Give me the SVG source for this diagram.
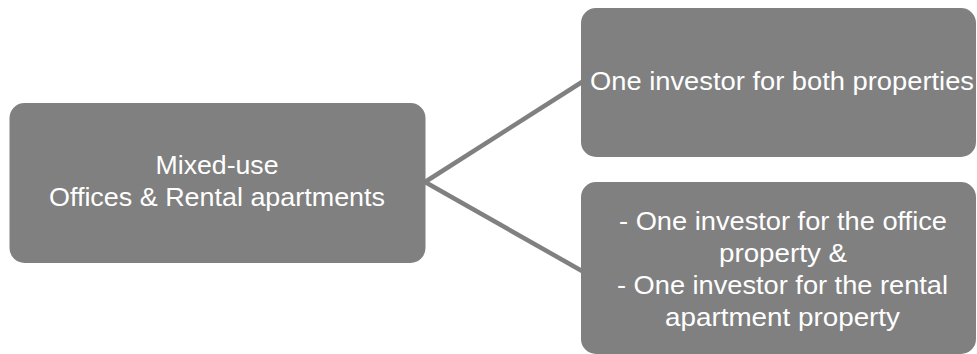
<svg xmlns="http://www.w3.org/2000/svg" width="977" height="354" viewBox="0 0 977 354">
<style>
.box{fill:#808080;}
.t{font-family:"Liberation Sans",Arial,sans-serif;font-size:26px;fill:#ffffff;text-anchor:middle;}
.conn{stroke:#808080;stroke-width:4.5;fill:none;}
</style>
<rect width="977" height="354" fill="#ffffff"/>
<g id="connectors">
<line class="conn" x1="425" y1="182" x2="582" y2="82"/>
<line class="conn" x1="425" y1="182" x2="582" y2="271"/>
</g>
<g id="node-mixed-use">
<rect class="box" x="9.5" y="103" width="416" height="160" rx="15" ry="15"/>
<text class="t" x="217" y="174" textLength="123" lengthAdjust="spacingAndGlyphs">Mixed-use</text>
<text class="t" x="217" y="206" textLength="336" lengthAdjust="spacingAndGlyphs">Offices &amp; Rental apartments</text>
</g>
<g id="node-one-investor">
<rect class="box" x="581" y="8" width="395" height="149" rx="15" ry="15"/>
<text class="t" x="782" y="90" textLength="384" lengthAdjust="spacingAndGlyphs">One investor for both properties</text>
</g>
<g id="node-two-investors">
<rect class="box" x="581" y="182" width="395" height="172" rx="15" ry="15"/>
<text class="t" x="783" y="230" textLength="328" lengthAdjust="spacingAndGlyphs">- One investor for the office</text>
<text class="t" x="783" y="262" textLength="128" lengthAdjust="spacingAndGlyphs">property &amp;</text>
<text class="t" x="782.5" y="294" textLength="331" lengthAdjust="spacingAndGlyphs">- One investor for the rental</text>
<text class="t" x="782.5" y="326" textLength="235" lengthAdjust="spacingAndGlyphs">apartment property</text>
</g>
</svg>
